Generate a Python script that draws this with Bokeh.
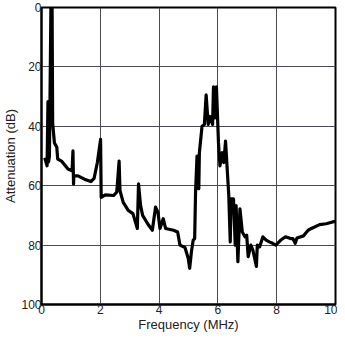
from bokeh.plotting import figure
from bokeh.models import Range1d, FixedTicker
from bokeh.embed import file_html
from bokeh.resources import INLINE

freq_mhz = [0.11, 0.19, 0.22, 0.24, 0.27, 0.32, 0.36, 0.38, 0.44, 0.52, 0.55, 0.68, 0.90,
            1.04, 1.07, 1.09, 1.10, 1.24, 1.46, 1.68, 1.79, 1.90, 2.01, 2.03, 2.17, 2.45,
            2.56, 2.64, 2.67, 2.78, 2.95, 3.11, 3.26, 3.30, 3.37, 3.44, 3.61, 3.77, 3.88,
            3.96, 4.03, 4.14, 4.22, 4.49, 4.63, 4.71, 4.88, 4.99, 5.04, 5.10, 5.16, 5.21,
            5.24, 5.29, 5.35, 5.37, 5.46, 5.54, 5.60, 5.67, 5.73, 5.82, 5.85, 5.90, 5.95,
            6.02, 6.07, 6.15, 6.20, 6.26, 6.31, 6.37, 6.42, 6.45, 6.53, 6.59, 6.62, 6.68,
            6.75, 6.83, 6.92, 6.98, 7.03, 7.12, 7.19, 7.31, 7.34, 7.42, 7.53, 7.64, 7.75,
            7.86, 7.97, 8.14, 8.30, 8.47, 8.55, 8.63, 8.69, 8.91, 9.07, 9.18, 9.46, 9.68,
            9.90, 10.0]
atten_db = [50.6, 53.3, 31.7, 52.0, 50.0, 0.0, 0.0, 39.0, 45.6, 47.0, 51.0, 51.7, 54.4,
            55.0, 48.3, 59.4, 56.7, 56.7, 57.8, 58.6, 57.5, 52.2, 44.4, 63.9, 63.1, 63.3,
            62.2, 51.7, 61.7, 65.6, 68.3, 69.4, 74.4, 59.4, 66.7, 70.0, 72.8, 75.0, 67.2,
            68.9, 74.4, 71.1, 74.4, 75.0, 75.6, 80.0, 80.8, 84.4, 87.8, 82.2, 78.3, 77.8,
            62.2, 50.0, 61.0, 48.9, 40.0, 39.4, 29.4, 39.4, 36.7, 39.4, 26.7, 37.2, 26.7,
            45.6, 53.3, 48.9, 52.2, 45.0, 53.3, 63.3, 78.9, 64.4, 64.4, 80.0, 66.7, 85.6,
            67.8, 75.6, 77.2, 76.7, 83.9, 80.0, 81.7, 87.2, 80.0, 80.6, 77.2, 78.3, 78.9,
            79.4, 80.0, 78.3, 77.2, 77.8, 77.8, 79.4, 77.6, 76.9, 75.0, 74.4, 73.1, 72.8,
            72.2, 72.0]
x_ticks = [0, 2, 4, 6, 8, 10]
y_ticks = [0, 20, 40, 60, 80, 100]

p = figure(width=337, height=334, output_backend="svg", toolbar_location=None,
           x_range=Range1d(0, 10), y_range=Range1d(100, 0),
           min_border_left=30, min_border_right=2, min_border_top=7, min_border_bottom=28)

p.line(freq_mhz, atten_db, line_color="black", line_width=3.2, line_join="round")

font = "Liberation Sans"
p.xaxis.ticker = FixedTicker(ticks=x_ticks)
p.yaxis.ticker = FixedTicker(ticks=y_ticks)
for ax in (p.xaxis, p.yaxis):
    ax.major_label_text_font = font
    ax.major_label_text_font_size = "12px"
    ax.major_label_text_color = "#222222"
    ax.major_label_text_line_height = 1.0
    ax.axis_label_text_font = font
    ax.axis_label_text_font_size = "13px"
    ax.axis_label_text_font_style = "normal"
    ax.axis_label_text_color = "#222222"
    ax.axis_label_text_line_height = 1.0
    ax.major_tick_out = 0
    ax.major_tick_in = 0
    ax.minor_tick_out = 0
    ax.minor_tick_in = 0
    ax.axis_line_color = "black"
    ax.axis_line_width = 2
    ax.major_label_standoff = 0
    ax.axis_label_standoff = 0
p.xaxis.axis_label = "Frequency (MHz)"
p.yaxis.axis_label = "Attenuation (dB)"

p.grid.grid_line_color = "#4a4a55"
p.grid.grid_line_width = 1
p.outline_line_color = "black"
p.outline_line_width = 2
p.background_fill_color = "white"

open("out.html", "w").write(file_html(p, INLINE))
